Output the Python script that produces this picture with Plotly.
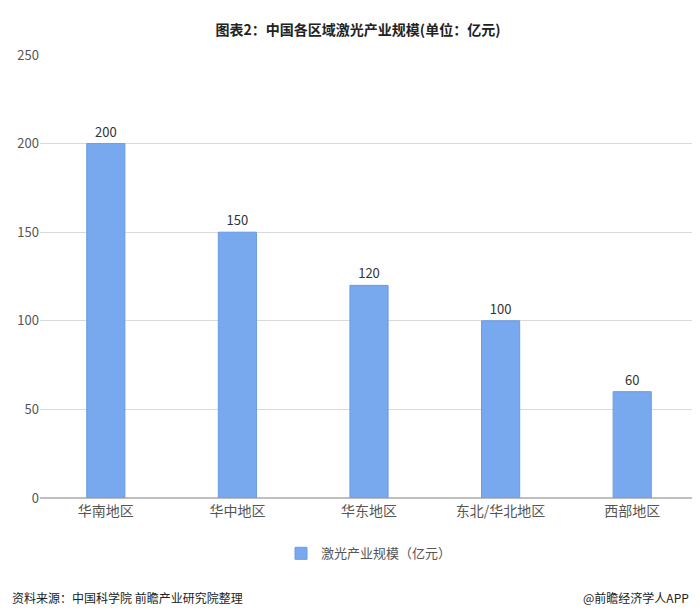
import plotly.graph_objects as go

categories = ["华南地区", "华中地区", "华东地区", "东北/华北地区", "西部地区"]
values = [200, 150, 120, 100, 60]
series_name = "激光产业规模（亿元）"

fig = go.Figure(go.Bar(
    x=categories, y=values, name=series_name, width=0.29,
    marker=dict(color="#78A8EE", line=dict(color="#6A9BE3", width=1)),
    text=values, textposition="outside", cliponaxis=False,
    textfont=dict(size=13, color="#333"),
))
fig.update_layout(
    width=700, height=610, plot_bgcolor="white", paper_bgcolor="white",
    font=dict(family="Noto Sans CJK SC", size=13, color="#555"),
    margin=dict(l=32, r=10, t=47, b=120),
    title=dict(text="<b>图表2：中国各区域激光产业规模(单位：亿元)</b>", x=0.5, y=0.972,
               xanchor="center", font=dict(size=14, color="#222")),
    showlegend=True,
    legend=dict(orientation="h", x=0.5, xanchor="center", y=-0.125, yanchor="middle",
                font=dict(size=13, color="#555")),
    bargap=0.7,
)
fig.update_yaxes(range=[0, 250], dtick=50, gridcolor="#D9D9D9", zeroline=True,
                 zerolinecolor="#BFBFBF", tickfont=dict(size=13, color="#555"))
fig.update_xaxes(showline=True, linecolor="#BFBFBF", tickfont=dict(size=14, color="#555"))
fig.add_annotation(text="资料来源：中国科学院 前瞻产业研究院整理", xref="paper", yref="paper",
                   x=-0.045, y=-0.225, xanchor="left", yanchor="middle", showarrow=False,
                   font=dict(size=12, color="#222"))
fig.add_annotation(text="@前瞻经济学人APP", xref="paper", yref="paper",
                   x=0.99, y=-0.225, xanchor="right", yanchor="middle", showarrow=False,
                   font=dict(size=12, color="#222"))
fig.write_html("out.html")
